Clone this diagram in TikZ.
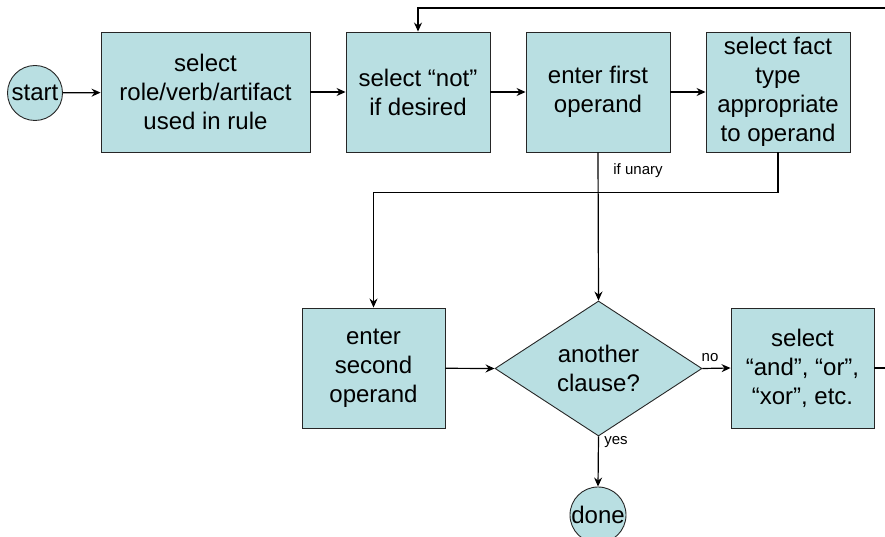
\documentclass[tikz,border=0pt]{standalone}
\usepackage{fontspec}
\setmainfont{Liberation Sans}
\usetikzlibrary{shapes.geometric,arrows.meta}
\definecolor{boxfill}{RGB}{185,223,226}
\tikzset{
  stepbox/.style={draw=black!85, line width=0.9pt, fill=boxfill, rectangle, align=center,
    inner sep=0pt, minimum height=120pt, font=\fontsize{24}{29}\selectfont},
  termnode/.style={draw=black!85, line width=0.9pt, fill=boxfill, circle, inner sep=0pt,
    minimum size=55pt, font=\fontsize{24}{29}\selectfont},
  decide/.style={draw=black!85, line width=0.9pt, fill=boxfill, diamond, aspect=1.53, inner sep=0pt,
    minimum width=207pt, minimum height=135pt, align=center, font=\fontsize{24}{29}\selectfont},
  arr/.style={draw, line width=1.2pt, -{Stealth[length=9pt,width=8pt,inset=3pt]}},
  plain/.style={draw, line width=1.2pt},
  lbl/.style={font=\fontsize{15}{18}\selectfont, inner sep=0pt}
}
\begin{document}
\begin{tikzpicture}[x=1pt,y=-1pt]
\useasboundingbox (0,0) rectangle (885,537);
\node[termnode] (start) at (35,93) {start};
\node[stepbox, minimum width=209pt] (b1) at (205.5,92) {select\\role/verb/artifact\\used in rule};
\node[stepbox, minimum width=144pt] (b2) at (418,92) {select “not”\\if desired};
\node[stepbox, minimum width=144pt] (b3) at (598,92) {enter first\\operand};
\node[stepbox, minimum width=144pt] (b4) at (778,92) {select fact\\type\\appropriate\\to operand};
\node[stepbox, minimum width=143pt] (b5) at (373.5,368) {enter\\second\\operand};
\node[decide] (dia) at (598.5,368.5) {another\\clause?};
\node[stepbox, minimum width=143pt] (b6) at (802.5,368) {select\\“and”, “or”,\\“xor”, etc.};
\node[termnode, minimum size=56pt] (done) at (598,515) {done};
\coordinate (loopR) at (885,8);
\coordinate (exitR) at (885,368);

\draw[arr] (start) -- (b1);
\draw[arr] (b1) -- (b2);
\draw[arr] (b2) -- (b3);
\draw[arr] (b3) -- (b4);
\draw[arr] (loopR) -| (b2.north);
\draw[arr] (b3.south) -- (dia.north);
\draw[arr] (b4.south) -- ++(0,40) -| (b5.north);
\draw[arr] (b5) -- (dia.west);
\draw[arr] (dia.east) -- (b6.west);
\draw[arr] (dia.south) -- (done.north);
\draw[plain] (b6.east) -- (exitR);

\node[lbl] (lunary) at (638,171) {if unary};
\node[lbl] (lno) at (710,358) {no};
\node[lbl] (lyes) at (616,442) {yes};
\end{tikzpicture}
\end{document}
